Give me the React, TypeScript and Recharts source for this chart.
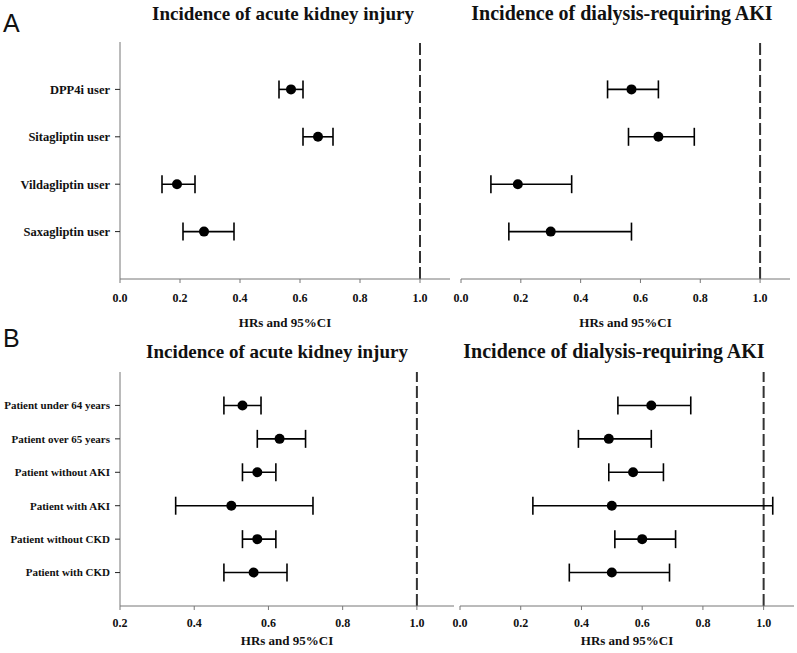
import { ScatterChart, Scatter, XAxis, YAxis, ErrorBar, ReferenceLine } from "recharts";

const serif = "'Liberation Serif', 'Times New Roman', serif";

// A: by DPP4i type
const drugLabels = ["DPP4i user", "Sitagliptin user", "Vildagliptin user", "Saxagliptin user"];
const akiDrugHr = [0.57, 0.66, 0.19, 0.28];
const akiDrugLo = [0.53, 0.61, 0.14, 0.21];
const akiDrugHi = [0.61, 0.71, 0.25, 0.38];
const dialysisDrugHr = [0.57, 0.66, 0.19, 0.3];
const dialysisDrugLo = [0.49, 0.56, 0.1, 0.16];
const dialysisDrugHi = [0.66, 0.78, 0.37, 0.57];

// B: by patient subgroup
const groupLabels = [
  "Patient under 64 years",
  "Patient over 65 years",
  "Patient without AKI",
  "Patient with AKI",
  "Patient without CKD",
  "Patient with CKD",
];
const akiGroupHr = [0.53, 0.63, 0.57, 0.5, 0.57, 0.56];
const akiGroupLo = [0.48, 0.57, 0.53, 0.35, 0.53, 0.48];
const akiGroupHi = [0.58, 0.7, 0.62, 0.72, 0.62, 0.65];
const dialysisGroupHr = [0.63, 0.49, 0.57, 0.5, 0.6, 0.5];
const dialysisGroupLo = [0.52, 0.39, 0.49, 0.24, 0.51, 0.36];
const dialysisGroupHi = [0.76, 0.63, 0.67, 1.03, 0.71, 0.69];

const ticksFrom0 = [0, 0.2, 0.4, 0.6, 0.8, 1.0];
const ticksFrom02 = [0.2, 0.4, 0.6, 0.8, 1.0];

const dot = (p: any) => <circle cx={p.cx} cy={p.cy} r={5} fill="#000" />;

// plain text ticks so long row names don't get wrapped
const rowTick = (labels: string[], size: number) => (p: any) => (
  <text
    x={p.x}
    y={p.y}
    dy="0.35em"
    textAnchor="end"
    fontFamily={serif}
    fontWeight="bold"
    fontSize={size}
    fill="#111"
  >
    {labels[p.payload.value - 1]}
  </text>
);

const hrTick = (p: any) => (
  <text
    x={p.x}
    y={p.y}
    dy="0.71em"
    textAnchor="middle"
    fontFamily={serif}
    fontWeight="bold"
    fontSize={12}
    fill="#111"
  >
    {Number(p.payload.value).toFixed(1)}
  </text>
);

function Forest({
  labels,
  hr,
  lo,
  hi,
  xMin,
  xTicks,
  showLabels,
  left,
  top,
  width,
  height,
  marginLeft,
  marginRight,
  axisHeight,
  tickGap,
  labelSize,
}: any) {
  const data = labels.map((name: string, i: number) => ({
    name,
    row: i + 1,
    hr: hr[i],
    err: [hr[i] - lo[i], hi[i] - hr[i]],
  }));
  return (
    <div style={{ position: "absolute", left, top }}>
      <ScatterChart
        width={width}
        height={height}
        margin={{ top: 42, right: marginRight, left: marginLeft, bottom: 0 }}
      >
        <XAxis
          type="number"
          dataKey="hr"
          domain={[xMin, 1.1]}
          ticks={xTicks}
          allowDataOverflow
          height={axisHeight}
          stroke="#777"
          tickSize={4}
          tickMargin={tickGap}
          tick={hrTick}
          label={{
            value: "HRs and 95%CI",
            position: "insideBottom",
            offset: 8,
            fontFamily: serif,
            fontWeight: "bold",
            fontSize: 13,
            fill: "#111",
          }}
        />
        <YAxis
          type="number"
          dataKey="row"
          domain={[0, labels.length + 1]}
          ticks={labels.map((_: string, i: number) => i + 1)}
          reversed
          hide={!showLabels}
          width={120}
          interval={0}
          axisLine={{ stroke: "#777" }}
          tickLine={{ stroke: "#222" }}
          tickSize={5}
          tickMargin={5}
          tick={rowTick(labels, labelSize)}
        />
        <ReferenceLine x={1} stroke="#333" strokeWidth={2} strokeDasharray="12 4" />
        <Scatter data={data} shape={dot} isAnimationActive={false}>
          <ErrorBar dataKey="err" direction="x" width={9} stroke="#000" strokeWidth={1.6} />
        </Scatter>
      </ScatterChart>
    </div>
  );
}

export default function App() {
  const title = { fontFamily: serif, fontWeight: "bold", fill: "#111", textAnchor: "middle" } as const;
  const letter = { fontFamily: "'Liberation Sans', Arial, sans-serif", fontSize: 25, fill: "#111" };
  return (
    <div style={{ position: "absolute", left: 0, top: 0, width: 797, height: 653, background: "#fff" }}>
      <Forest
        labels={drugLabels}
        hr={akiDrugHr}
        lo={akiDrugLo}
        hi={akiDrugHi}
        xMin={0}
        xTicks={ticksFrom0}
        showLabels
        left={0}
        top={0}
        width={450}
        height={335}
        marginLeft={0}
        marginRight={0}
        axisHeight={56}
        tickGap={10}
        labelSize={12.5}
      />
      <Forest
        labels={drugLabels}
        hr={dialysisDrugHr}
        lo={dialysisDrugLo}
        hi={dialysisDrugHi}
        xMin={0}
        xTicks={ticksFrom0}
        showLabels={false}
        left={440}
        top={0}
        width={357}
        height={335}
        marginLeft={21}
        marginRight={7}
        axisHeight={56}
        tickGap={10}
        labelSize={12.5}
      />
      <Forest
        labels={groupLabels}
        hr={akiGroupHr}
        lo={akiGroupLo}
        hi={akiGroupHi}
        xMin={0.2}
        xTicks={ticksFrom02}
        showLabels
        left={0}
        top={330}
        width={454}
        height={323}
        marginLeft={0}
        marginRight={0}
        axisHeight={47}
        tickGap={8}
        labelSize={11}
      />
      <Forest
        labels={groupLabels}
        hr={dialysisGroupHr}
        lo={dialysisGroupLo}
        hi={dialysisGroupHi}
        xMin={0}
        xTicks={ticksFrom0}
        showLabels={false}
        left={440}
        top={330}
        width={357}
        height={323}
        marginLeft={20}
        marginRight={3}
        axisHeight={47}
        tickGap={8}
        labelSize={11}
      />
      <svg
        width={797}
        height={653}
        style={{ position: "absolute", left: 0, top: 0, pointerEvents: "none" }}
      >
        <text x={3} y={32} {...letter}>A</text>
        <text x={3} y={347} {...letter}>B</text>
        <text x={283} y={20} fontSize={19} {...title}>Incidence of acute kidney injury</text>
        <text x={622} y={20} fontSize={20} {...title}>Incidence of dialysis-requiring AKI</text>
        <text x={277} y={358} fontSize={19} {...title}>Incidence of acute kidney injury</text>
        <text x={614} y={358} fontSize={20} {...title}>Incidence of dialysis-requiring AKI</text>
      </svg>
    </div>
  );
}
